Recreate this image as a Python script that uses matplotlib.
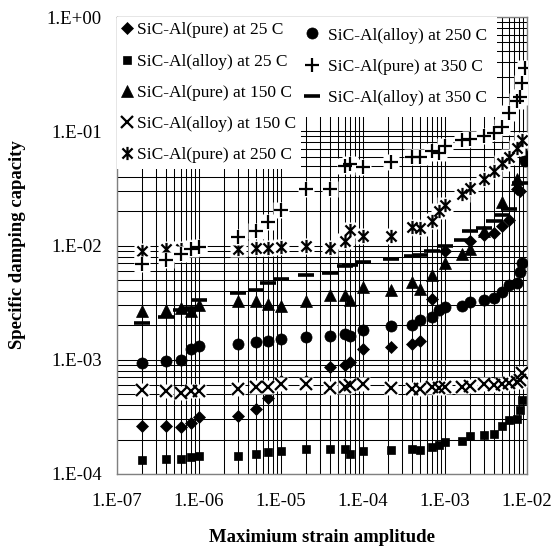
import numpy as np
import matplotlib
matplotlib.use('Agg')
import matplotlib.pyplot as plt
from matplotlib.path import Path
from matplotlib.lines import Line2D
from matplotlib.ticker import LogLocator, FuncFormatter, NullFormatter

plt.rcParams['font.family'] = ['Liberation Serif', 'DejaVu Serif']

nan = np.nan

# strain amplitudes (shared by all series, nan where a series has no point)
strain = [2e-7, 4e-7, 6e-7, 8e-7, 1e-6, 3e-6, 5e-6, 7e-6, 1e-5, 2e-5,
          4e-5, 6e-5, 7e-5, 1e-4, 2.2e-4, 4e-4, 5e-4, 7e-4, 8.5e-4, 1e-3,
          1.6e-3, 2e-3, 3e-3, 4e-3, 5e-3, 6e-3, 7.5e-3, 8.2e-3, 8.8e-3, 9.5e-3]

pure_25 = [2.65e-4, 2.65e-4, 2.58e-4, 2.8e-4, 3.15e-4, 3.24e-4, 3.7e-4, 4.6e-4, 6.5e-4, 6.5e-4,
           8.7e-4, 9.0e-4, 9.5e-4, 1.25e-3, 1.29e-3, 1.38e-3, 1.47e-3, 3.4e-3, nan, 8.9e-3,
           nan, 1.09e-2, 1.24e-2, 1.29e-2, 1.47e-2, 1.67e-2, 3.1e-2, 3.0e-2, nan, nan]
alloy_25 = [1.32e-4, 1.35e-4, 1.35e-4, 1.41e-4, 1.43e-4, 1.45e-4, 1.5e-4, 1.55e-4, 1.6e-4, 1.65e-4,
            1.66e-4, 1.65e-4, 1.5e-4, 1.58e-4, 1.63e-4, 1.65e-4, 1.61e-4, 1.74e-4, 1.8e-4, 1.89e-4,
            1.93e-4, 2.13e-4, 2.21e-4, 2.25e-4, 2.65e-4, 2.99e-4, 3.05e-4, 3.65e-4, 4.4e-4, nan]
pure_150 = [2.65e-3, 2.74e-3, 2.84e-3, 2.65e-3, 3.0e-3, 3.24e-3, 3.24e-3, 3.1e-3, 2.93e-3, 3.29e-3,
            3.71e-3, 3.71e-3, 3.35e-3, 4.3e-3, 4.1e-3, 4.75e-3, 4.16e-3, 5.5e-3, nan, 7.0e-3,
            8.5e-3, 9.3e-3, 1.35e-2, nan, 2.4e-2, nan, 3.8e-2, nan, nan, 6.4e-2]
alloy_150 = [5.4e-4, 5.3e-4, 5.1e-4, 5.3e-4, 5.3e-4, 5.5e-4, 5.75e-4, 5.75e-4, 6.1e-4, 6.1e-4,
             5.7e-4, 5.8e-4, 5.96e-4, 6.1e-4, 5.65e-4, 5.6e-4, 5.55e-4, 5.75e-4, 5.7e-4, 5.75e-4,
             5.75e-4, 5.95e-4, 6.1e-4, 6.0e-4, 6.1e-4, 6.2e-4, 6.4e-4, 6.6e-4, 7.6e-4, nan]
pure_250 = [8.9e-3, 9.3e-3, 9.3e-3, 9.5e-3, 9.6e-3, 9.3e-3, 9.5e-3, 9.5e-3, 9.8e-3, 1.0e-2,
            9.6e-3, 1.09e-2, 1.37e-2, 1.2e-2, 1.2e-2, 1.45e-2, 1.42e-2, 1.63e-2, 1.99e-2, 2.24e-2,
            2.8e-2, 3.2e-2, 3.8e-2, 4.5e-2, 5.3e-2, 6.0e-2, 7.1e-2, nan, 8.4e-2, nan]
alloy_250 = [9.4e-4, 9.7e-4, 9.9e-4, 1.25e-3, 1.31e-3, 1.38e-3, 1.43e-3, 1.47e-3, 1.53e-3, 1.57e-3,
             1.6e-3, 1.68e-3, 1.6e-3, 1.81e-3, 1.96e-3, 2.03e-3, 2.24e-3, 2.35e-3, 2.7e-3, 2.9e-3,
             2.97e-3, 3.18e-3, 3.36e-3, 3.47e-3, 3.92e-3, 4.54e-3, 4.7e-3, 5.9e-3, 7.0e-3, 5.5e-2]
pure_350 = [6.9e-3, 7.4e-3, 8.4e-3, 9.3e-3, 9.7e-3, 1.19e-2, 1.33e-2, 1.6e-2, 2.06e-2, 3.12e-2,
            3.12e-2, 5.0e-2, 5.2e-2, 4.9e-2, 5.4e-2, 6.0e-2, 6.0e-2, 6.7e-2, 6.5e-2, 7.4e-2,
            8.4e-2, 8.6e-2, 9.0e-2, 9.6e-2, 0.109, 0.145, 0.185, 0.2, 0.265, 0.36]
alloy_350 = [2.1e-3, 2.37e-3, 2.75e-3, 2.85e-3, 3.35e-3, 3.84e-3, 4.1e-3, 4.7e-3, 5.1e-3, 5.5e-3,
             5.8e-3, 6.6e-3, 6.8e-3, 7.1e-3, 7.6e-3, 8.1e-3, 8.3e-3, 9.0e-3, nan, 1.0e-2,
             1.12e-2, 1.33e-2, 1.42e-2, 1.63e-2, 1.85e-2, 2.1e-2, nan, 3.5e-2, nan, nan]

labels = ['SiC-Al(pure) at 25 C', 'SiC-Al(alloy) at 25 C', 'SiC-Al(pure) at 150 C',
          'SiC-Al(alloy) at 150 C', 'SiC-Al(pure) at 250 C', 'SiC-Al(alloy) at 250 C',
          'SiC-Al(pure) at 350 C', 'SiC-Al(alloy) at 350 C']
series = [pure_25, alloy_25, pure_150, alloy_150, pure_250, alloy_250, pure_350, alloy_350]

# excel-like "star": an x with a vertical bar
star = Path([(-1, -1), (1, 1), (-1, 1), (1, -1), (0, -1.3), (0, 1.3)],
            [Path.MOVETO, Path.LINETO, Path.MOVETO, Path.LINETO, Path.MOVETO, Path.LINETO])

# marker, size, edge width, white box behind
styles = [
    ('D', 6.0, 0.5, False),
    ('s', 6.0, 0.5, False),
    ('^', 8.0, 0.5, False),
    ('x', 8.5, 1.6, True),
    (star, 9.5, 1.6, True),
    ('o', 8.0, 0.5, False),
    ('+', 10.0, 1.6, True),
    ('_', 11.5, 2.6, False),
]

fig = plt.figure(figsize=(5.6, 5.49), dpi=100)
ax = fig.add_axes([117 / 560, 1 - 474 / 549, 410 / 560, 457 / 549])
ax.set_xscale('log')
ax.set_yscale('log')
ax.set_xlim(1e-7, 1e-2)
ax.set_ylim(1e-4, 1)

handles = []
for vals, (m, ms, mew, box) in zip(series, styles):
    if box:
        ax.plot(strain, vals, ls='none', marker='s', ms=ms * 1.15, mfc='white',
                mec='none', zorder=3)
    ax.plot(strain, vals, ls='none', marker=m, ms=ms, mew=mew, color='black',
            mfc='black', mec='black', zorder=3)
    handles.append(Line2D([], [], ls='none', marker=m, ms=ms, mew=mew,
                          color='black', mfc='black', mec='black'))

ax.xaxis.set_major_locator(LogLocator(base=10, numticks=10))
ax.yaxis.set_major_locator(LogLocator(base=10, numticks=10))
ax.xaxis.set_minor_locator(LogLocator(base=10, subs=np.arange(2, 10), numticks=20))
ax.yaxis.set_minor_locator(LogLocator(base=10, subs=np.arange(2, 10), numticks=20))
fmt = FuncFormatter(lambda v, p: '1.E%+03d' % int(round(np.log10(v))))
ax.xaxis.set_major_formatter(fmt)
ax.yaxis.set_major_formatter(fmt)
ax.xaxis.set_minor_formatter(NullFormatter())
ax.yaxis.set_minor_formatter(NullFormatter())
ax.tick_params(axis='both', which='both', length=0, labelsize=13.5)
ax.tick_params(axis='x', pad=14)
ax.tick_params(axis='y', pad=11)
ax.grid(True, which='both', color='black', lw=0.75)
ax.set_axisbelow(True)
for s in ax.spines.values():
    s.set_color('#808080')
    s.set_linewidth(1.0)

leg_kw = dict(fontsize=12.5, frameon=True, facecolor='white', edgecolor='none',
              framealpha=1, fancybox=False, borderaxespad=0, labelspacing=0.87)
leg1 = ax.legend(handles[:5], labels[:5], loc='upper left', bbox_to_anchor=(0, 1),
                 borderpad=0.3, handlelength=0.6, handletextpad=0.25, **leg_kw)
ax.add_artist(leg1)
ax.legend(handles[5:], labels[5:], loc='upper left', bbox_to_anchor=(0.446, 1),
          borderpad=0.6, handlelength=0.25, handletextpad=0.75, **leg_kw)

fig.text(322 / 560, 1 - 537 / 549, 'Maximium strain amplitude', ha='center', va='center',
         fontsize=13.5, fontweight='bold')
fig.text(18 / 560, 1 - 245 / 549, 'Specific damping capacity', ha='center', va='center',
         rotation=90, fontsize=13.5, fontweight='bold')

fig.savefig('out.png', dpi=100)
